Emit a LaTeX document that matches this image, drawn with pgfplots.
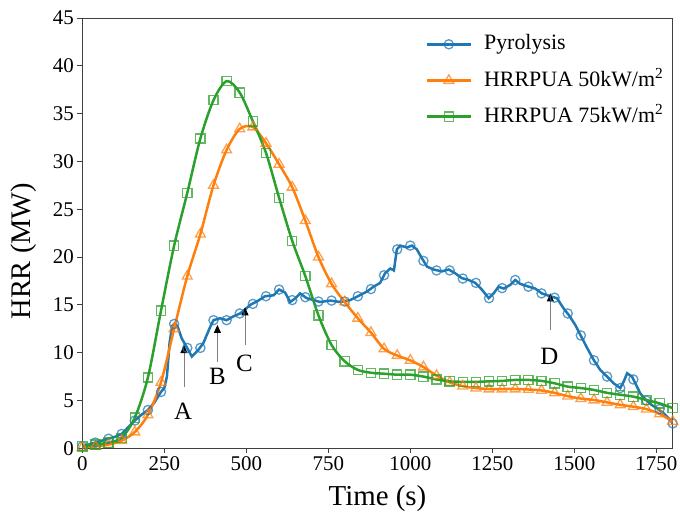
\documentclass[border=0pt]{standalone}
\usepackage{fontspec}
\setmainfont{Liberation Serif}
\usepackage{pgfplots}
\pgfplotsset{compat=1.18}
\usetikzlibrary{arrows.meta}
\definecolor{c0}{HTML}{1F77B4}
\definecolor{c1}{HTML}{FF7F0E}
\definecolor{c2}{HTML}{2CA02C}
\begin{document}
\begin{tikzpicture}
\begin{axis}[
  scale only axis, width=590.4bp, height=430.3bp,
  xmin=0, xmax=1800, ymin=0, ymax=45,
  xtick={0,250,...,1750}, ytick={0,5,...,45},
  xtick pos=left, ytick pos=left,
  tick align=outside, major tick length=5bp,
  tick style={line width=0.8bp, black!75},
  axis line style={line width=0.8bp, black!75},
  ticklabel style={font=\fontsize{21}{24}\selectfont},
  /pgf/number format/assume math mode=true,
  /pgf/number format/1000 sep={},
  every axis x label/.style={at={(axis description cs:0.5,0)}, anchor=base, yshift=-56.7bp, font=\fontsize{29}{32}\selectfont},
  every axis y label/.style={at={(axis description cs:-0.0987,0.458)}, rotate=90, anchor=center, font=\fontsize{28.5}{32}\selectfont},
  xlabel={Time (s)}, ylabel={HRR (MW)},
  legend style={at={(axis description cs:0.576,0.973)}, anchor=north west, draw=none, fill=none,
    font=\fontsize{22}{26}\selectfont, row sep=11.2bp,
    nodes={text height=16bp, text depth=5bp, inner sep=2bp},
    /tikz/every odd column/.append style={column sep=10bp}},
  legend cell align=left,
  legend image code/.code={\draw[mark repeat=2,mark phase=2] plot coordinates {(0bp,0bp) (22bp,0bp) (44bp,0bp)};},
]
\addlegendimage{c0, line width=2.5bp, mark=o, mark size=4.6bp, mark options={draw=c0, draw opacity=0.75, line width=1.3bp}}
\addlegendentry{Pyrolysis}
\addlegendimage{c1, line width=2.5bp, mark=triangle, mark size=5.7bp, mark options={draw=c1, draw opacity=0.75, line width=1.3bp}}
\addlegendentry{HRRPUA 50kW/m\textsuperscript{2}}
\addlegendimage{c2, line width=2.5bp, mark=square, mark size=4.6bp, mark options={draw=c2, draw opacity=0.75, line width=1.3bp}}
\addlegendentry{HRRPUA 75kW/m\textsuperscript{2}}

% Pyrolysis line
\addplot[c0, line width=2.5bp, forget plot] coordinates {
(0,0.2) (20,0.4) (40,0.6) (60,0.8) (80,1.0) (100,1.2) (120,1.5) (140,2.2) (160,2.9) (180,3.5) (200,4.0) (220,4.8) (240,5.9) (250,6.3) (258,7.5) (266,11.0) (274,12.8) (283,13.1) (292,12.6) (303,11.5) (318,10.6) (334,9.6) (354,10.3) (369,11.0) (390,12.7) (400,13.4) (420,13.6) (440,13.4) (461,13.8) (481,14.1) (496,14.5) (512,15.0) (532,15.35) (557,15.9) (583,16.0) (600,16.6) (618,16.3) (634,15.3) (650,15.7) (664,16.2) (684,15.7) (705,15.5) (725,15.3) (756,15.45) (786,15.3) (817,15.5) (840,15.9) (868,16.4) (888,16.9) (908,17.3) (923,18.3) (939,18.8) (950,18.6) (959,20.8) (969,21.2) (990,21.0) (1005,21.2) (1020,20.8) (1035,19.9) (1051,19.0) (1071,18.7) (1096,18.5) (1117,18.7) (1137,18.3) (1157,17.8) (1178,17.6) (1198,17.3) (1218,16.6) (1239,15.7) (1254,16.2) (1269,16.9) (1285,16.7) (1305,17.1) (1320,17.6) (1335,17.2) (1361,16.9) (1381,16.7) (1401,16.2) (1427,15.9) (1447,15.7) (1467,14.65) (1483,13.95) (1503,12.9) (1518,11.9) (1539,10.5) (1559,9.25) (1579,8.2) (1600,7.5) (1620,6.8) (1640,6.3) (1651,7.0) (1661,7.85) (1676,7.5) (1686,6.8) (1701,5.75) (1717,5.1) (1737,4.5) (1752,4.2) (1773,3.65) (1793,2.95) (1800,2.6)
};
% Pyrolysis markers
\addplot[only marks, forget plot, mark=o, mark size=4.6bp, mark options={draw=c0, draw opacity=0.75, line width=1.3bp}] coordinates {
(0,0.2) (40,0.6) (80,1.0) (120,1.5) (160,2.9) (200,4.0) (240,5.9) (280,13.0) (320,10.5) (360,10.5) (400,13.4) (440,13.4) (480,14.1) (520,15.1) (560,15.9) (600,16.6) (640,15.5) (680,15.8) (720,15.35) (760,15.45) (800,15.35) (840,15.9) (880,16.65) (920,18.1) (960,20.8) (1000,21.2) (1040,19.6) (1080,18.6) (1120,18.6) (1160,17.75) (1200,17.3) (1240,15.7) (1280,16.75) (1320,17.6) (1360,16.9) (1400,16.2) (1440,15.75) (1480,14.1) (1520,11.8) (1560,9.2) (1600,7.5) (1640,6.3) (1680,7.2) (1720,5.0) (1760,4.1) (1800,2.6)
};
% HRRPUA 50
\addplot[c1, line width=2.5bp, smooth, forget plot, mark=triangle, mark size=5.7bp, mark options={draw=c1, draw opacity=0.75, line width=1.3bp}] coordinates {
(0,0.1) (40,0.2) (80,0.4) (120,0.8) (160,1.7) (200,3.5) (240,6.9) (280,12.5) (320,18.0) (360,22.4) (400,27.5) (440,31.2) (480,33.4) (520,33.6) (560,31.9) (600,29.7) (640,27.3) (680,23.8) (720,20.0) (760,17.2) (800,15.3) (840,13.6) (880,12.1) (920,10.4) (960,9.7) (1000,9.2) (1040,8.5) (1080,7.6) (1120,6.9) (1160,6.5) (1200,6.3) (1240,6.2) (1280,6.2) (1320,6.2) (1360,6.15) (1400,6.05) (1440,5.8) (1480,5.45) (1520,5.2) (1560,5.05) (1600,4.8) (1640,4.55) (1680,4.35) (1720,4.1) (1760,3.6) (1800,2.8)
};
% HRRPUA 75
\addplot[c2, line width=2.5bp, smooth, forget plot, mark=square, mark size=4.6bp, mark options={draw=c2, draw opacity=0.75, line width=1.3bp}] coordinates {
(0,0.2) (40,0.4) (80,0.6) (120,1.1) (160,3.2) (200,7.4) (240,14.4) (280,21.2) (320,26.7) (360,32.4) (400,36.4) (440,38.4) (480,37.2) (520,34.2) (560,30.9) (600,26.2) (640,21.7) (680,18.0) (720,13.9) (760,10.8) (800,9.1) (840,8.2) (880,7.9) (920,7.8) (960,7.7) (1000,7.7) (1040,7.5) (1080,7.2) (1120,7.0) (1160,6.95) (1200,6.95) (1240,7.0) (1280,7.05) (1320,7.15) (1360,7.15) (1400,7.05) (1440,6.8) (1480,6.45) (1520,6.3) (1560,6.1) (1600,5.8) (1640,5.6) (1680,5.4) (1720,5.05) (1760,4.7) (1800,4.2)
};

% annotations
\draw[black!50, line width=0.9bp, -{Triangle[black, length=8bp, width=7bp]}] (axis cs:310,6.45) -- (axis cs:310,10.8);
\draw[black!50, line width=0.9bp, -{Triangle[black, length=8bp, width=7bp]}] (axis cs:412,9.06) -- (axis cs:412,12.9);
\draw[black!50, line width=0.9bp, -{Triangle[black, length=8bp, width=7bp]}] (axis cs:496,10.8) -- (axis cs:496,14.75);
\draw[black!50, line width=0.9bp, -{Triangle[black, length=8bp, width=7bp]}] (axis cs:1427,12.4) -- (axis cs:1427,16.2);
\node[font=\fontsize{25}{28}\selectfont, inner sep=0pt] at (axis cs:307,3.83) {A};
\node[font=\fontsize{25}{28}\selectfont, inner sep=0pt] at (axis cs:412,7.49) {B};
\node[font=\fontsize{25}{28}\selectfont, inner sep=0pt] at (axis cs:494,8.9) {C};
\node[font=\fontsize{25}{28}\selectfont, inner sep=0pt] at (axis cs:1424,9.58) {D};
\end{axis}
\pgfresetboundingbox
\path (-82.3bp,-63.7bp) rectangle (597.7bp,448.3bp);
\end{tikzpicture}
\end{document}
